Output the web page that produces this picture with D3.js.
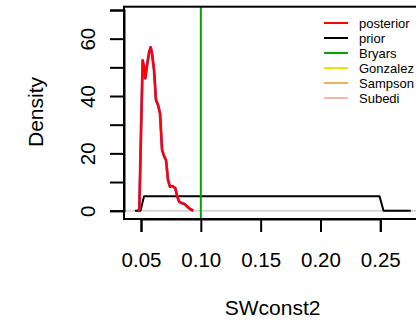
<!DOCTYPE html>
<html>
<head>
<meta charset="utf-8">
<script src="https://cdn.jsdelivr.net/npm/d3@7"></script>
<style>
  html, body { margin: 0; padding: 0; background: #fff; }
  svg { display: block; font-family: "Liberation Sans", Arial, Helvetica, sans-serif; }
</style>
</head>
<body>
<svg id="chart" width="416" height="324"></svg>
<script>
// Posterior density of SWconst2 (kernel estimate)
const posteriorX = [0.0475, 0.0486, 0.0500, 0.0514, 0.0525, 0.0536, 0.0553, 0.0569, 0.0581, 0.0592,
                    0.0609, 0.0625, 0.0642, 0.0659, 0.0676, 0.0692, 0.0709, 0.0726, 0.0742, 0.0765,
                    0.0787, 0.0803, 0.0820, 0.0843, 0.0865, 0.0887, 0.0915, 0.0937];
const posteriorY = [0, 0.5, 27.0, 52.4, 50.2, 46.2, 51.4, 55.5, 57.0, 54.9,
                    49.1, 38.7, 36.9, 34.0, 21.2, 19.1, 17.7, 10.7, 8.4, 8.6,
                    7.8, 4.9, 3.1, 2.6, 2.3, 1.4, 0.5, 0];

// Uniform prior on (0.05, 0.25)
const priorX = [0.0450, 0.0496, 0.0525, 0.2494, 0.2527, 0.2755];
const priorY = [0, 0, 5, 5, 0, 0];

// Reference estimates drawn as vertical lines
const refNames = ["Bryars"];
const refValues = [0.10];

// Legend
const legendLabels = ["posterior", "prior", "Bryars", "Gonzalez", "Sampson", "Subedi"];
const legendColors = ["#ff0000", "#000000", "#00a600", "#e6e600", "#ebb060", "#f2b8a8"];

// Axes
const xTicks = [0.05, 0.10, 0.15, 0.20, 0.25];
const yTicks = [0, 10, 20, 30, 40, 50, 60, 70];
const yLabelTicks = [0, 20, 40, 60];

const svg = d3.select("#chart");

const x = d3.scaleLinear().domain([0.05, 0.25]).range([141, 380.3]);
const y = d3.scaleLinear().domain([0, 70]).range([210.7, 10]);

const plotLeft = 124, plotTop = 6.7, plotBottom = 219, plotRight = 432;

// zero reference line
svg.append("line")
  .attr("x1", plotLeft).attr("x2", plotRight)
  .attr("y1", y(0)).attr("y2", y(0))
  .attr("stroke", "#d6d6d6").attr("stroke-width", 2);

const line = d3.line().x(d => x(d[0])).y(d => y(d[1]));

// prior
svg.append("path")
  .datum(d3.zip(priorX, priorY))
  .attr("d", line)
  .attr("fill", "none").attr("stroke", "#000").attr("stroke-width", 2)
  .attr("stroke-linejoin", "round");

// posterior
const post = d3.zip(posteriorX, posteriorY);
svg.append("path")
  .datum(post)
  .attr("d", line)
  .attr("fill", "none").attr("stroke", "#9a3a9a").attr("stroke-width", 2.8)
  .attr("stroke-linejoin", "round");
svg.append("path")
  .datum(post)
  .attr("d", line)
  .attr("fill", "none").attr("stroke", "#ff0000").attr("stroke-width", 2.2)
  .attr("stroke-linejoin", "round");

// reference estimate lines
svg.selectAll("line.ref")
  .data(refValues)
  .join("line")
  .attr("class", "ref")
  .attr("x1", d => x(d)).attr("x2", d => x(d))
  .attr("y1", plotTop).attr("y2", plotBottom)
  .attr("stroke", legendColors[2]).attr("stroke-width", 2);

// plot box
svg.append("rect")
  .attr("x", plotLeft).attr("y", plotTop)
  .attr("width", plotRight - plotLeft).attr("height", plotBottom - plotTop)
  .attr("fill", "none").attr("stroke", "#000").attr("stroke-width", 2);

// x axis
const xAxis = d3.axisBottom(x)
  .tickValues(xTicks)
  .tickFormat(d3.format(".2f"))
  .tickSize(13)
  .tickPadding(20);
const gx = svg.append("g").attr("transform", `translate(0,${plotBottom})`).call(xAxis);
gx.select(".domain").attr("stroke-width", 2);
gx.selectAll(".tick line").attr("stroke-width", 2);
gx.selectAll(".tick text")
  .attr("font-size", 20.5)
  .attr("fill", "#000")
  .attr("font-family", "Liberation Sans, Arial, sans-serif");

// y axis
const yAxis = d3.axisLeft(y)
  .tickValues(yTicks)
  .tickFormat(d => yLabelTicks.includes(d) ? d : "")
  .tickSize(14);
const gy = svg.append("g").attr("transform", `translate(${plotLeft},0)`).call(yAxis);
gy.select(".domain").attr("stroke-width", 2);
gy.selectAll(".tick line").attr("stroke-width", 2);
gy.selectAll(".tick text")
  .attr("font-size", 20.5)
  .attr("fill", "#000")
  .attr("font-family", "Liberation Sans, Arial, sans-serif")
  .attr("text-anchor", "middle")
  .attr("dy", 0)
  .attr("x", 0)
  .attr("transform", `translate(${95 - plotLeft},0) rotate(-90)`);

// axis titles
svg.append("text")
  .attr("x", x(0.10) + (x(0.15) - x(0.10)) * 1.2)
  .attr("y", 315)
  .attr("text-anchor", "middle")
  .attr("font-size", 21)
  .text("SWconst2");

svg.append("text")
  .attr("transform", "translate(43,112) rotate(-90)")
  .attr("text-anchor", "middle")
  .attr("font-size", 21)
  .text("Density");

// legend
const legend = svg.append("g");
const rows = legend.selectAll("g")
  .data(legendLabels)
  .join("g")
  .attr("transform", (d, i) => `translate(324,${23 + i * 15})`);
rows.append("line")
  .attr("x1", 0).attr("x2", 24)
  .attr("stroke", (d, i) => legendColors[i])
  .attr("stroke-width", 2);
rows.append("text")
  .attr("x", 35).attr("y", 4.5)
  .attr("font-size", 13)
  .text(d => d);
</script>
</body>
</html>
